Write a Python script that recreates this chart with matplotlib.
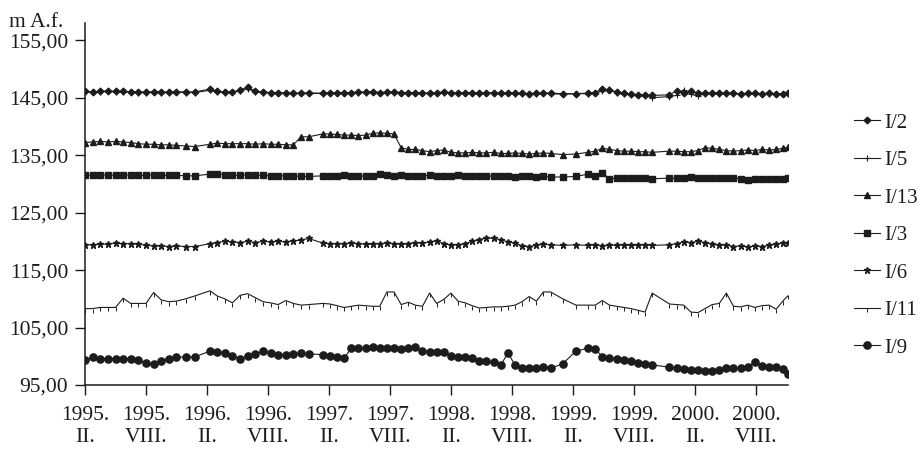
import matplotlib
matplotlib.use("Agg")
import matplotlib.pyplot as plt

plt.rcParams['font.family'] = ['Liberation Serif', 'DejaVu Serif']

# measurement dates, months counted from February 1995
months = [0, 0.75, 1.5, 2.25, 3, 3.75, 4.5, 5.25, 6, 6.75, 7.5, 8.25, 9, 9.9, 10.8,
          12.3, 13, 13.75, 14.5, 15.25, 16, 16.75, 17.5, 18.25, 19, 19.75, 20.5, 21.25, 22,
          23.4, 24.1, 24.8, 25.5, 26.2, 26.9, 27.6, 28.3, 29, 29.7, 30.4, 31.1, 31.8, 32.5,
          33.2, 33.9, 34.6, 35.3, 36, 36.7, 37.4, 38.1, 38.8, 39.5, 40.2, 40.9, 41.6, 42.3,
          43, 43.7, 44.4, 45.1, 45.8,
          47, 48.3, 49.5, 50.2, 50.9, 51.6, 52.3, 53, 53.7, 54.4, 55.1, 55.8,
          57.5, 58.2, 58.9, 59.6, 60.3, 61, 61.7, 62.4, 63.1, 63.8, 64.5, 65.2, 65.9, 66.6,
          67.3, 68, 68.7, 69.2]

# water levels (m A.f.)
i2 = [146.1, 146.0, 146.1, 146.2, 146.1, 146.1, 146.0, 146.0, 146.0, 146.0, 146.0, 146.0, 146.0, 146.0, 146.0,
      146.5, 146.1, 146.0, 146.0, 146.3, 146.9, 146.1, 146.0, 145.9, 145.9, 145.8, 145.8, 145.8, 145.8,
      145.8, 145.8, 145.9, 145.9, 145.9, 146.0, 146.0, 146.0, 145.9, 146.0, 146.0, 145.9, 145.9, 145.9,
      145.8, 145.8, 145.9, 146.0, 145.9, 145.8, 145.9, 145.9, 145.8, 145.8, 145.9, 145.8, 145.8, 145.8,
      145.8, 145.7, 145.8, 145.8, 145.8,
      145.7, 145.7, 145.8, 145.9, 146.6, 146.3, 146.0, 145.8, 145.6, 145.5, 145.5, 145.4,
      145.5, 146.2, 145.9, 146.1, 145.8, 145.8, 145.9, 145.8, 145.8, 145.8, 145.7, 145.8, 145.8, 145.7,
      145.8, 145.7, 145.7, 145.8]
i5 = [146.0, 146.0, 146.0, 146.1, 146.0, 146.0, 146.0, 145.9, 145.9, 146.0, 145.9, 145.9, 146.0, 145.9, 145.9,
      146.3, 146.0, 145.9, 146.0, 146.2, 146.6, 146.0, 145.9, 145.9, 145.8, 145.8, 145.7, 145.8, 145.8,
      145.7, 145.8, 145.8, 145.9, 145.8, 145.9, 145.9, 146.0, 145.9, 145.9, 145.9, 145.8, 145.9, 145.8,
      145.8, 145.7, 145.8, 145.9, 145.8, 145.8, 145.8, 145.8, 145.7, 145.8, 145.8, 145.7, 145.8, 145.7,
      145.7, 145.7, 145.7, 145.8, 145.7,
      145.6, 145.7, 145.7, 145.8, 146.2, 146.5, 145.8, 145.6, 145.5, 145.4, 145.3, 145.0,
      145.2, 145.4, 146.4, 145.6, 145.3, 145.7, 145.8, 145.7, 145.7, 145.7, 145.6, 145.7, 145.7, 145.6,
      145.7, 145.6, 145.6, 145.7]
i13 = [137.2, 137.3, 137.4, 137.3, 137.4, 137.3, 137.2, 137.0, 136.9, 136.9, 136.8, 136.8, 136.7, 136.6, 136.5,
       136.9, 137.1, 137.0, 137.0, 137.0, 137.0, 136.9, 137.0, 136.9, 136.9, 136.8, 136.8, 138.2, 138.2,
       138.7, 138.7, 138.6, 138.5, 138.5, 138.4, 138.5, 138.8, 138.9, 138.8, 138.7, 136.3, 136.0, 136.0,
       135.8, 135.6, 135.8, 135.9, 135.5, 135.4, 135.4, 135.5, 135.4, 135.4, 135.5, 135.3, 135.3, 135.4,
       135.3, 135.2, 135.3, 135.4, 135.3,
       135.1, 135.2, 135.5, 135.7, 136.2, 136.0, 135.8, 135.7, 135.7, 135.6, 135.6, 135.5,
       135.7, 135.7, 135.6, 135.6, 135.8, 136.3, 136.2, 136.0, 135.8, 135.7, 135.8, 135.9, 135.8, 136.0,
       135.9, 136.0, 136.2, 136.4]
i3 = [131.6, 131.5, 131.5, 131.6, 131.5, 131.5, 131.6, 131.5, 131.5, 131.6, 131.5, 131.5, 131.5, 131.4, 131.4,
      131.7, 131.8, 131.6, 131.5, 131.5, 131.6, 131.5, 131.5, 131.4, 131.4, 131.4, 131.4, 131.3, 131.3,
      131.4, 131.3, 131.4, 131.5, 131.4, 131.3, 131.4, 131.4, 131.7, 131.5, 131.4, 131.5, 131.4, 131.3,
      131.4, 131.5, 131.4, 131.3, 131.4, 131.5, 131.4, 131.3, 131.4, 131.3, 131.4, 131.4, 131.3, 131.2,
      131.3, 131.3, 131.2, 131.3, 131.2,
      131.2, 131.3, 131.7, 131.3, 131.9, 130.9, 131.0, 131.1, 131.0, 131.0, 131.0, 130.9,
      131.0, 131.0, 131.1, 131.2, 131.0, 131.0, 131.1, 131.0, 131.0, 131.0, 130.9, 130.7, 130.8, 130.8,
      130.9, 130.8, 130.9, 131.0]
i6 = [119.4, 119.4, 119.5, 119.5, 119.7, 119.6, 119.6, 119.5, 119.3, 119.2, 119.2, 119.1, 119.2, 119.1, 119.1,
      119.6, 119.8, 120.0, 119.9, 119.8, 120.0, 119.8, 120.0, 119.9, 120.0, 119.9, 120.1, 120.2, 120.5,
      119.7, 119.6, 119.6, 119.6, 119.7, 119.6, 119.5, 119.5, 119.6, 119.7, 119.6, 119.5, 119.6, 119.8,
      119.7, 119.9, 120.1, 119.6, 119.4, 119.4, 119.6, 120.0, 120.3, 120.6, 120.5, 120.3, 119.9, 119.7,
      119.2, 119.1, 119.3, 119.5, 119.4,
      119.3, 119.4, 119.3, 119.4, 119.2, 119.3, 119.3, 119.4, 119.3, 119.3, 119.4, 119.3,
      119.4, 119.6, 119.9, 119.8, 120.0, 119.8, 119.5, 119.3, 119.4, 119.1, 119.2, 119.0, 119.2, 119.1,
      119.3, 119.5, 119.7, 119.8]
i11 = [108.3, 108.3, 108.5, 108.5, 108.5, 110.1, 109.2, 109.2, 109.2, 111.1, 109.8, 109.5, 109.6, 110.0, 110.5,
       111.4, 110.5, 110.0, 109.3, 110.6, 110.9, 110.2, 109.5, 109.3, 109.0, 109.7, 109.2, 108.9, 109.0,
       109.2, 109.1, 108.8, 108.5, 108.7, 108.9, 108.8, 108.7, 108.7, 111.2, 111.2, 109.0, 109.4, 108.9,
       108.7, 111.0, 109.2, 109.9, 111.0, 109.6, 109.3, 108.8, 108.4, 108.5, 108.6, 108.6, 108.7, 108.9,
       109.5, 110.4, 109.6, 111.2, 111.2,
       110.0, 108.9, 108.9, 108.9, 109.7, 108.9, 108.7, 108.5, 108.3, 108.0, 107.7, 111.0,
       109.1, 109.0, 108.9, 107.7, 107.6, 108.3, 109.0, 109.2, 111.0, 108.7, 108.6, 108.9, 108.5, 108.8,
       108.9, 108.2, 109.7, 110.6]
i9 = [99.4, 99.8, 99.6, 99.5, 99.6, 99.6, 99.5, 99.3, 98.9, 98.6, 99.2, 99.6, 99.8, 99.9, 99.9,
      100.9, 100.8, 100.5, 100.1, 99.6, 100.0, 100.4, 100.9, 100.6, 100.3, 100.2, 100.4, 100.5, 100.4,
      100.3, 100.1, 99.8, 99.7, 101.4, 101.5, 101.5, 101.6, 101.5, 101.5, 101.4, 101.3, 101.5, 101.6,
      100.9, 100.8, 100.7, 100.8, 100.1, 99.9, 99.8, 99.7, 99.2, 99.1, 99.0, 98.4, 100.6, 98.5,
      98.0, 97.9, 97.9, 98.1, 97.9,
      98.7, 100.9, 101.4, 101.3, 99.9, 99.7, 99.6, 99.4, 99.1, 98.8, 98.6, 98.5,
      98.1, 98.0, 97.8, 97.7, 97.6, 97.5, 97.4, 97.7, 97.9, 97.9, 97.9, 98.2, 99.0, 98.3,
      98.2, 98.1, 97.8, 97.0]

xtick_pos = [0, 6, 12, 18, 24, 30, 36, 42, 48, 54, 60, 66]
xtick_labels = ['1995.\nII.', '1995.\nVIII.', '1996.\nII.', '1996.\nVIII.',
                '1997.\nII.', '1997.\nVIII.', '1998.\nII.', '1998.\nVIII.',
                '1999.\nII.', '1999.\nVIII.', '2000.\nII.', '2000.\nVIII.']
ytick_pos = [95, 105, 115, 125, 135, 145, 155]
ytick_labels = ['95,00', '105,00', '115,00', '125,00', '135,00', '145,00', '155,00']

ink = '#1c1c1c'
fig = plt.figure(figsize=(9.21, 4.51), dpi=100)
ax = fig.add_axes([0.0923, 0.1463, 0.7637, 0.8027])

series = [
    ('I/5', i5, dict(marker='+', markersize=4, markeredgewidth=0.8)),
    ('I/2', i2, dict(marker='D', markersize=3.4)),
    ('I/13', i13, dict(marker='^', markersize=4.3)),
    ('I/3', i3, dict(marker='s', markersize=4.4)),
    ('I/6', i6, dict(marker='*', markersize=4.8)),
    ('I/11', i11, dict(marker=3, markersize=3, markeredgewidth=0.7)),
    ('I/9', i9, dict(marker='o', markersize=5.2)),
]
lines = {}
for name, vals, style in series:
    ln, = ax.plot(months, vals, color=ink, lw=0.8, mfc=ink, mec=ink, label=name, **style)
    lines[name] = ln

ax.set_xlim(0, 69.2)
ax.set_ylim(95, 158)
ax.set_xticks(xtick_pos)
ax.set_xticklabels(xtick_labels, linespacing=1.22)
ax.set_yticks(ytick_pos)
ax.set_yticklabels(ytick_labels)
ax.tick_params(axis='both', direction='out', length=7, width=1, colors=ink,
               labelsize=15.5, pad=5)
ax.tick_params(axis='x', pad=8)
for side in ['top', 'right']:
    ax.spines[side].set_visible(False)
for side in ['left', 'bottom']:
    ax.spines[side].set_color(ink)
    ax.spines[side].set_linewidth(1.1)

fig.text(0.01, 0.95, 'm A.f.', fontsize=15.5, color=ink, va='center', ha='left')

order = ['I/2', 'I/5', 'I/13', 'I/3', 'I/6', 'I/11', 'I/9']
fig.legend([lines[n] for n in order], order, loc='upper left',
           bbox_to_anchor=(0.927, 0.749), bbox_transform=fig.transFigure,
           frameon=False, fontsize=15, labelspacing=0.86, handlelength=1.25,
           handletextpad=0.2, borderpad=0, borderaxespad=0, numpoints=1,
           labelcolor=ink)

fig.savefig('out.png', dpi=100, facecolor='white')
